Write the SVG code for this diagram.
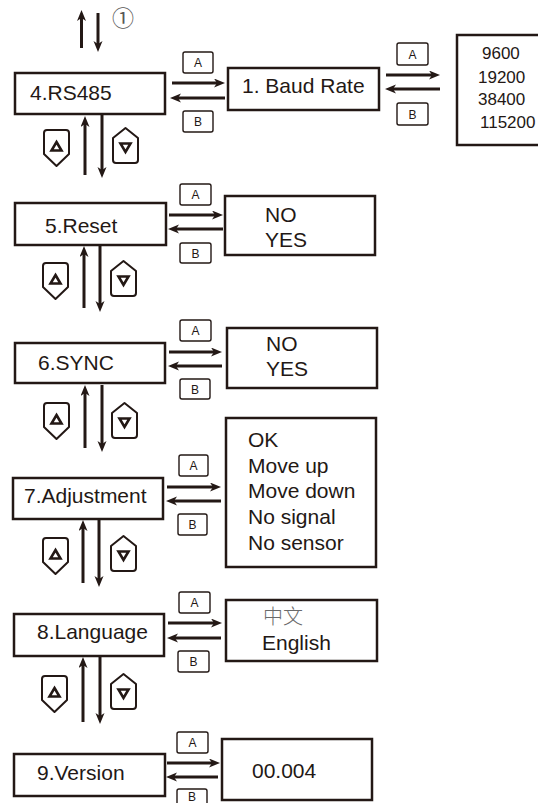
<svg xmlns="http://www.w3.org/2000/svg" width="538" height="803" viewBox="0 0 538 803">
<style>
.box{fill:#fff;stroke:#231815;stroke-width:2.5}
.lbl{fill:#fff;stroke:#231815;stroke-width:1.4}
.lt{font-family:"Liberation Sans",Arial,sans-serif;font-size:12px;fill:#231815;text-anchor:middle}
.t{font-family:"Liberation Sans",Arial,sans-serif;font-size:21px;fill:#231815}
.v{font-family:"Liberation Sans",Arial,sans-serif;font-size:17px;fill:#231815}
.ar{stroke:#231815;stroke-width:3;fill:none}
.ic{fill:#fff;stroke:#231815;stroke-width:2;stroke-linejoin:round}
.tri{fill:none;stroke:#231815;stroke-width:2.6;stroke-linejoin:miter}
</style>
<defs>
<marker id="ah" markerUnits="userSpaceOnUse" markerWidth="12" markerHeight="10" refX="5" refY="4.5" orient="auto">
<path d="M0,0 L11,4.5 L0,9 L3,4.5 Z" fill="#231815"/>
</marker>
<g id="upicon">
<path class="ic" d="M3,0 H22 Q25,0 25,3 V24 L12.5,36 L0,24 V3 Q0,0 3,0 Z"/>
<path class="tri" d="M12.5,12 L17.5,20.5 H7.5 Z"/>
</g>
<g id="dnicon">
<path class="ic" d="M12.5,0 L25,10 V32 Q25,35 22,35 H3 Q0,35 0,32 V10 Z"/>
<path class="tri" d="M7.5,15.5 H17.5 L12.5,24 Z"/>
</g>
</defs>

<g id="connectors">
<line class="ar" x1="81.5" y1="48" x2="81.5" y2="16" marker-end="url(#ah)"/>
<line class="ar" x1="98" y1="13" x2="98" y2="46" marker-end="url(#ah)"/>
<line class="ar" x1="172" y1="83" x2="219" y2="83" marker-end="url(#ah)"/>
<line class="ar" x1="225" y1="98" x2="176" y2="98" marker-end="url(#ah)"/>
<line class="ar" x1="386" y1="75" x2="434" y2="75" marker-end="url(#ah)"/>
<line class="ar" x1="440" y1="89" x2="391" y2="89" marker-end="url(#ah)"/>
<line class="ar" x1="169" y1="215" x2="217" y2="215" marker-end="url(#ah)"/>
<line class="ar" x1="223" y1="229" x2="174" y2="229" marker-end="url(#ah)"/>
<line class="ar" x1="169" y1="352" x2="216" y2="352" marker-end="url(#ah)"/>
<line class="ar" x1="222" y1="366" x2="174" y2="366" marker-end="url(#ah)"/>
<line class="ar" x1="167" y1="487" x2="215" y2="487" marker-end="url(#ah)"/>
<line class="ar" x1="221" y1="501" x2="172" y2="501" marker-end="url(#ah)"/>
<line class="ar" x1="168" y1="623" x2="216" y2="623" marker-end="url(#ah)"/>
<line class="ar" x1="221" y1="638" x2="173" y2="638" marker-end="url(#ah)"/>
<line class="ar" x1="167" y1="763" x2="214" y2="763" marker-end="url(#ah)"/>
<line class="ar" x1="218" y1="777" x2="172" y2="777" marker-end="url(#ah)"/>
<line class="ar" x1="85" y1="175" x2="85" y2="122" marker-end="url(#ah)"/>
<line class="ar" x1="102" y1="115" x2="102" y2="172" marker-end="url(#ah)"/>
<line class="ar" x1="84" y1="308" x2="84" y2="252" marker-end="url(#ah)"/>
<line class="ar" x1="100" y1="246" x2="100" y2="306" marker-end="url(#ah)"/>
<line class="ar" x1="85" y1="448" x2="85" y2="391" marker-end="url(#ah)"/>
<line class="ar" x1="102" y1="385" x2="102" y2="446" marker-end="url(#ah)"/>
<line class="ar" x1="83" y1="583" x2="83" y2="526" marker-end="url(#ah)"/>
<line class="ar" x1="99" y1="520" x2="99" y2="581" marker-end="url(#ah)"/>
<line class="ar" x1="83" y1="722" x2="83" y2="663" marker-end="url(#ah)"/>
<line class="ar" x1="100" y1="657" x2="100" y2="718" marker-end="url(#ah)"/>
</g>

<g id="labels">
<rect class="lbl" x="183" y="52" width="30" height="21" rx="2"/><text class="lt" x="198" y="67">A</text>
<rect class="lbl" x="183" y="111" width="30" height="21" rx="2"/><text class="lt" x="198" y="126">B</text>
<rect class="lbl" x="397" y="43" width="31" height="22" rx="2"/><text class="lt" x="412.5" y="58.5">A</text>
<rect class="lbl" x="397" y="103" width="31" height="22" rx="2"/><text class="lt" x="412.5" y="118.5">B</text>
<rect class="lbl" x="180" y="184" width="31" height="21" rx="2"/><text class="lt" x="195.5" y="199">A</text>
<rect class="lbl" x="180" y="243" width="31" height="20" rx="2"/><text class="lt" x="195.5" y="257.5">B</text>
<rect class="lbl" x="180" y="320" width="31" height="21" rx="2"/><text class="lt" x="195.5" y="335">A</text>
<rect class="lbl" x="180" y="379" width="30" height="20" rx="2"/><text class="lt" x="195" y="393.5">B</text>
<rect class="lbl" x="179" y="455" width="29" height="21" rx="2"/><text class="lt" x="193.5" y="470">A</text>
<rect class="lbl" x="178" y="514" width="29" height="21" rx="2"/><text class="lt" x="192.5" y="529">B</text>
<rect class="lbl" x="179" y="592" width="31" height="21" rx="2"/><text class="lt" x="194.5" y="607">A</text>
<rect class="lbl" x="178" y="651" width="31" height="21" rx="2"/><text class="lt" x="193.5" y="666">B</text>
<rect class="lbl" x="177" y="732" width="31" height="21" rx="2"/><text class="lt" x="192.5" y="747">A</text>
<rect class="lbl" x="177" y="789" width="30" height="21" rx="2"/><text class="lt" x="192" y="801" font-size="11">B</text>
</g>

<g id="icons">
<use href="#upicon" x="44" y="130"/><use href="#dnicon" x="113" y="128"/>
<use href="#upicon" x="43" y="263"/><use href="#dnicon" x="111" y="261"/>
<use href="#upicon" x="44" y="403"/><use href="#dnicon" x="112" y="403"/>
<use href="#upicon" x="43" y="538"/><use href="#dnicon" x="111" y="536"/>
<use href="#upicon" x="42" y="676"/><use href="#dnicon" x="111" y="674"/>
</g>

<text x="112" y="26" font-family="'Noto Sans CJK JP',sans-serif" font-size="22" fill="#595757">①</text>

<g id="n4"><rect class="box" x="15" y="73" width="150" height="41"/><text class="t" x="30" y="100">4.RS485</text></g>
<g id="n_baud"><rect class="box" x="228" y="68" width="151" height="42"/><text class="t" x="242" y="93">1. Baud Rate</text></g>
<g id="n_vals"><rect class="box" x="457" y="35" width="90" height="110"/>
<text class="v" x="482" y="59">9600</text><text class="v" x="478" y="82.5">19200</text><text class="v" x="478" y="105">38400</text><text class="v" x="480" y="128">115200</text></g>

<g id="n5"><rect class="box" x="15" y="203" width="151" height="42"/><text class="t" x="45" y="233">5.Reset</text></g>
<g id="n5o"><rect class="box" x="225" y="196" width="150" height="59"/><text class="t" x="265" y="222">NO</text><text class="t" x="265" y="247">YES</text></g>

<g id="n6"><rect class="box" x="15" y="343" width="150" height="40"/><text class="t" x="38" y="370">6.SYNC</text></g>
<g id="n6o"><rect class="box" x="227" y="328" width="150" height="60"/><text class="t" x="266" y="351">NO</text><text class="t" x="266" y="376">YES</text></g>

<g id="n7"><rect class="box" x="13" y="478" width="150" height="41"/><text class="t" x="24" y="503">7.Adjustment</text></g>
<g id="n7o"><rect class="box" x="226" y="418" width="150" height="149"/>
<text class="t" x="248" y="447">OK</text><text class="t" x="248" y="473">Move up</text><text class="t" x="248" y="498">Move down</text><text class="t" x="248" y="524">No signal</text><text class="t" x="248" y="550">No sensor</text></g>

<g id="n8"><rect class="box" x="14" y="614" width="150" height="42"/><text class="t" x="37" y="639">8.Language</text></g>
<g id="n8o"><rect class="box" x="226" y="600" width="151" height="61"/>
<text x="263" y="624" font-family="'Noto Sans CJK SC',sans-serif" font-size="20" fill="#6a6a6a" font-weight="300">中文</text>
<text class="t" x="262" y="650">English</text></g>

<g id="n9"><rect class="box" x="14" y="754" width="151" height="42"/><text class="t" x="37" y="780">9.Version</text></g>
<g id="n9o"><rect class="box" x="222" y="739" width="150" height="61"/><text class="t" x="252" y="778">00.004</text></g>
</svg>
